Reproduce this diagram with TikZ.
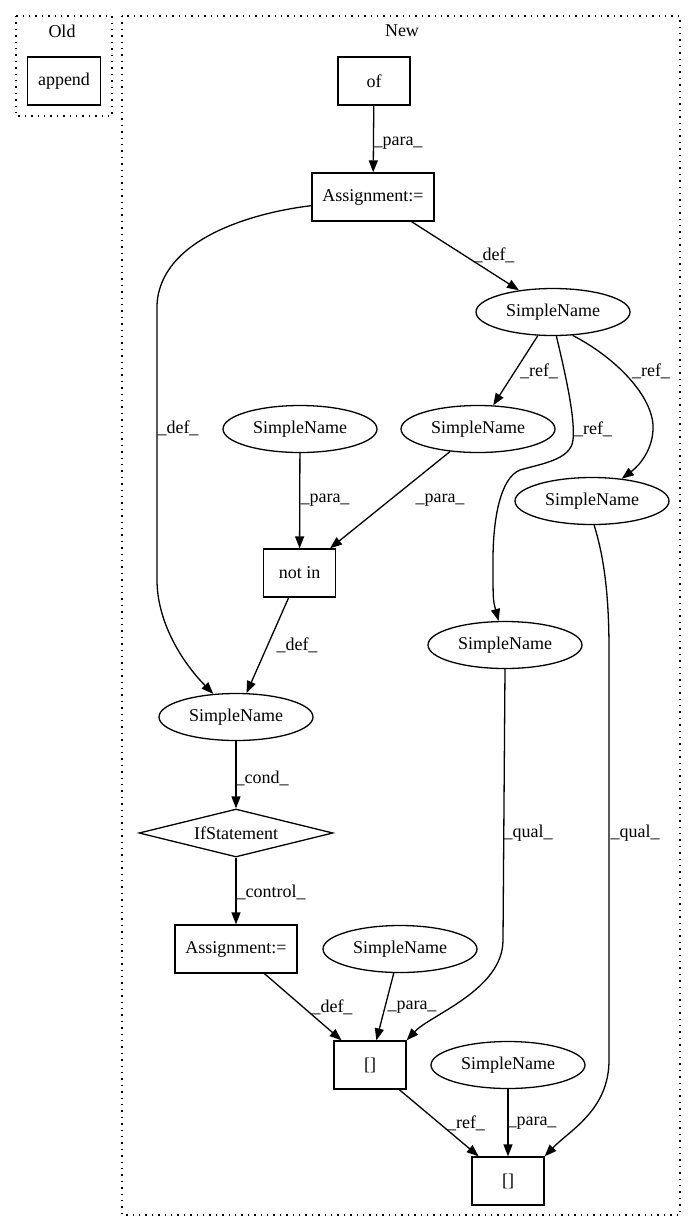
\documentclass[tikz,border=0pt]{standalone}
\usepackage{fontspec}
\setmainfont{Liberation Serif}
\usetikzlibrary{shapes.geometric,arrows.meta}

\begin{document}
\begin{tikzpicture}[x=1pt,y=-1pt,
	box/.style={draw,rectangle,line width=1.3pt,minimum width=72pt,minimum height=48pt,inner xsep=10.5pt,font=\fontsize{18}{20}\selectfont},
	ell/.style={draw,ellipse,line width=1.3pt,inner sep=0pt,minimum width=154pt,minimum height=47pt,font=\fontsize{18}{20}\selectfont},
	cnd/.style={draw,diamond,line width=1.3pt,aspect=4,inner sep=0pt,minimum width=194pt,minimum height=48pt,font=\fontsize{18}{20}\selectfont},
	edge/.style={line width=1.3pt,-{Triangle[length=12pt,width=9pt]}},
	lbl/.style={font=\fontsize{18}{20}\selectfont,inner sep=0pt},
	clus/.style={line width=1.4pt,dash pattern=on 1.4pt off 5pt}]
				\useasboundingbox (0,0) rectangle (696,1232);
				\draw[clus] (16,16) rectangle (112,116);
				\draw[clus] (122,16) rectangle (680,1215);
				\node[lbl] (old) at (62,31) {Old};
				\node[lbl] (new) at (402,31) {New};
				\node[box] (append) at (64,81) {append};
				\node[box] (of) at (374,81) {of};
				\node[box] (asg1) at (373,197) {Assignment:=};
				\node[ell] (snA) at (553,312) {SimpleName};
				\node[ell] (snLeft) at (300,429) {SimpleName};
				\node[ell] (snMid) at (478,429) {SimpleName};
				\node[ell] (snRight) at (592,501) {SimpleName};
				\node[box] (notin) at (299.5,573) {not in};
				\node[ell] (snLow) at (505,645) {SimpleName};
				\node[ell] (sncond) at (236,717) {SimpleName};
				\node[cnd] (ifst) at (236,833) {IfStatement};
				\node[box] (asg2) at (236,949) {Assignment:=};
				\node[ell] (snB1) at (400,949) {SimpleName};
				\node[box] (br1) at (370,1065) {[]};
				\node[ell] (snB2) at (508,1065) {SimpleName};
				\node[box] (br2) at (508,1181) {[]};
				% edges
				\draw[edge] (of) -- (asg1) node[lbl] at (398,143) {\_para\_};
				\draw[edge] (asg1) -- (snA) node[lbl] at (494,255) {\_def\_};
				\draw[edge] (asg1.188) .. controls (250,213) and (160,240) .. (157,305) -- (157,580) .. controls (157,620) and (180,660) .. (sncond) node[lbl] at (178,428) {\_def\_};
				\draw[edge] (snA) -- (snMid) node[lbl] at (539,371) {\_ref\_};
				\draw[edge] (snA.-82) .. controls (568,385) and (575,420) .. (573,440) .. controls (571,460) and (540,464) .. (520,470) .. controls (500,478) and (493,520) .. (493,560) .. controls (493,600) .. (snLow) node[lbl] at (593,429) {\_ref\_};
				\draw[edge] (snA.-50) .. controls (620,360) and (655,400) .. (653,430) .. controls (652,450) and (640,465) .. (snRight) node[lbl] at (651,371) {\_ref\_};
				\draw[edge] (snLeft) -- (notin) node[lbl] at (325,500) {\_para\_};
				\draw[edge] (snMid) -- (notin) node[lbl] at (440,500) {\_para\_};
				\draw[edge] (notin) -- (sncond) node[lbl] at (297,645) {\_def\_};
				\draw[edge] (sncond) -- (ifst) node[lbl] at (262,778) {\_cond\_};
				\draw[edge] (ifst) -- (asg2) node[lbl] at (271,892) {\_control\_};
				\draw[edge] (snLow.south) -- (503,940) .. controls (503,990) and (430,1015) .. (br1.north east) node[lbl] at (528,833) {\_qual\_};
				\draw[edge] (snRight.-85) .. controls (605,560) and (609,600) .. (609,650) -- (609,1060) .. controls (609,1110) and (570,1130) .. (br2.north east) node[lbl] at (635,833) {\_qual\_};
				\draw[edge] (asg2) -- (br1) node[lbl] at (332,1007) {\_def\_};
				\draw[edge] (snB1) -- (br1) node[lbl] at (412,1007) {\_para\_};
				\draw[edge] (br1) -- (br2) node[lbl] at (466,1123) {\_ref\_};
				\draw[edge] (snB2) -- (br2) node[lbl] at (532,1123) {\_para\_};
\end{tikzpicture}
\end{document}
